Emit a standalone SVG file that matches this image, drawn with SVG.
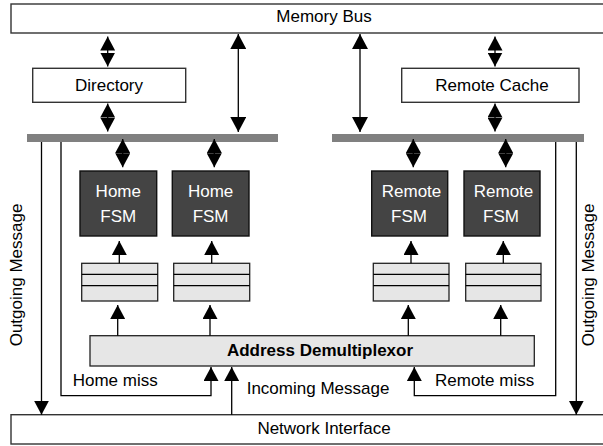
<svg xmlns="http://www.w3.org/2000/svg" width="603" height="446" viewBox="0 0 603 446">
<defs>
<marker id="ah" viewBox="0 0 14 15" refX="14" refY="7.5" markerWidth="14" markerHeight="15" markerUnits="userSpaceOnUse" orient="auto-start-reverse">
<path d="M0,0 L14,7.5 L0,15 z" fill="#000"/>
</marker>
<marker id="ahl" viewBox="0 0 15 16" refX="15" refY="8" markerWidth="15" markerHeight="16" markerUnits="userSpaceOnUse" orient="auto-start-reverse">
<path d="M0,0 L15,8 L0,16 z" fill="#000"/>
</marker>
</defs>
<style>
text{font-family:"Liberation Sans",Arial,sans-serif;font-size:17px;fill:#000}
.box{fill:#fff;stroke:#333;stroke-width:1.4}
.fsm{fill:#444;stroke:#111;stroke-width:1.4}
.fsmt{fill:#fff;text-anchor:middle}
.q{fill:#e6e6e6;stroke:#222;stroke-width:1.3}
.bar{fill:#808080}
.ln{fill:none;stroke:#000;stroke-width:1.3}
.da{fill:none;stroke:#000;stroke-width:1.3;marker-start:url(#ah);marker-end:url(#ah)}
.sa{fill:none;stroke:#000;stroke-width:1.3;marker-end:url(#ah)}
.la{fill:none;stroke:#000;stroke-width:1.3;marker-start:url(#ahl);marker-end:url(#ahl)}
.mid{text-anchor:middle}
</style>

<g id="memory-bus">
<rect class="box" x="11" y="4" width="600" height="29"/>
<text class="mid" x="324" y="22">Memory Bus</text>
</g>

<g id="directory">
<rect class="box" x="32.7" y="68.3" width="153" height="34"/>
<text class="mid" x="109" y="91">Directory</text>
</g>

<g id="remote-cache">
<rect class="box" x="401.7" y="68.3" width="177.3" height="34"/>
<text class="mid" x="492" y="91">Remote Cache</text>
</g>

<g id="home-bus">
<rect class="bar" x="27" y="134" width="251" height="8"/>
</g>
<g id="remote-bus">
<rect class="bar" x="332" y="134" width="252" height="8"/>
</g>

<g id="home-fsm-1">
<rect class="fsm" x="80" y="171" width="76.7" height="65"/>
<text class="fsmt" x="118.3" y="196.5">Home</text>
<text class="fsmt" x="118.3" y="221.7">FSM</text>
</g>
<g id="home-fsm-2">
<rect class="fsm" x="172.3" y="171" width="76.7" height="65"/>
<text class="fsmt" x="210.6" y="196.5">Home</text>
<text class="fsmt" x="210.6" y="221.7">FSM</text>
</g>
<g id="remote-fsm-1">
<rect class="fsm" x="371.7" y="171" width="76" height="65"/>
<text class="fsmt" x="411.5" y="196.5">Remote</text>
<text class="fsmt" x="409" y="221.7">FSM</text>
</g>
<g id="remote-fsm-2">
<rect class="fsm" x="464" y="171" width="76" height="65"/>
<text class="fsmt" x="503.5" y="196.5">Remote</text>
<text class="fsmt" x="501" y="221.7">FSM</text>
</g>

<g id="queue-1">
<rect class="q" x="81.7" y="263.3" width="76" height="37.7"/>
<path class="ln" d="M81.7,274.3 H157.7 M81.7,285.7 H157.7"/>
</g>
<g id="queue-2">
<rect class="q" x="173.7" y="263.3" width="76" height="37.7"/>
<path class="ln" d="M173.7,274.3 H249.7 M173.7,285.7 H249.7"/>
</g>
<g id="queue-3">
<rect class="q" x="373.3" y="263.3" width="75.7" height="37.7"/>
<path class="ln" d="M373.3,274.3 H449 M373.3,285.7 H449"/>
</g>
<g id="queue-4">
<rect class="q" x="465.7" y="263.3" width="75.3" height="37.7"/>
<path class="ln" d="M465.7,274.3 H541 M465.7,285.7 H541"/>
</g>

<g id="address-demultiplexor">
<rect x="90" y="335.7" width="444.3" height="30.3" fill="#e6e6e6" stroke="#222" stroke-width="1.3"/>
<text class="mid" x="320" y="355.5" font-weight="bold">Address Demultiplexor</text>
</g>

<g id="network-interface">
<rect class="box" x="11" y="414.7" width="600" height="29.3"/>
<text class="mid" x="324" y="434">Network Interface</text>
</g>

<g id="connectors">
<line class="da" x1="107.7" y1="36.5" x2="107.7" y2="66.5"/>
<line class="da" x1="107.7" y1="103.5" x2="107.7" y2="131.5"/>
<line class="da" x1="495" y1="36.5" x2="495" y2="66.5"/>
<line class="da" x1="495" y1="103.5" x2="495" y2="131.5"/>
<line class="la" x1="238.3" y1="34" x2="238.3" y2="132"/>
<line class="la" x1="360" y1="34" x2="360" y2="132"/>
<line class="da" x1="122.7" y1="139" x2="122.7" y2="167.3"/>
<line class="da" x1="214.3" y1="139" x2="214.3" y2="167.3"/>
<line class="da" x1="413.3" y1="139" x2="413.3" y2="167.3"/>
<line class="da" x1="505.7" y1="139" x2="505.7" y2="167.3"/>
<line class="sa" x1="119.3" y1="263.3" x2="119.3" y2="241"/>
<line class="sa" x1="211.7" y1="263.3" x2="211.7" y2="241"/>
<line class="sa" x1="411" y1="263.3" x2="411" y2="241"/>
<line class="sa" x1="503.3" y1="263.3" x2="503.3" y2="241"/>
<line class="sa" x1="117.7" y1="335.7" x2="117.7" y2="305"/>
<line class="sa" x1="210" y1="335.7" x2="210" y2="305"/>
<line class="sa" x1="408.3" y1="335.7" x2="408.3" y2="305"/>
<line class="sa" x1="500.7" y1="335.7" x2="500.7" y2="305"/>
<path class="sa" d="M61,142 V395.7 H211 V367"/>
<path class="sa" d="M555.7,142 V395.7 H414.3 V367"/>
<line class="sa" x1="231.7" y1="414.7" x2="231.7" y2="367"/>
<line class="sa" x1="41.5" y1="142" x2="41.5" y2="414.7"/>
<line class="sa" x1="576.3" y1="142" x2="576.3" y2="414.7"/>
</g>

<g id="labels">
<text class="mid" transform="translate(22,275) rotate(-90)">Outgoing Message</text>
<text class="mid" transform="translate(594,275) rotate(-90)">Outgoing Message</text>
<text x="72.7" y="386">Home miss</text>
<text x="246.7" y="394">Incoming Message</text>
<text x="435" y="386">Remote miss</text>
</g>
</svg>
